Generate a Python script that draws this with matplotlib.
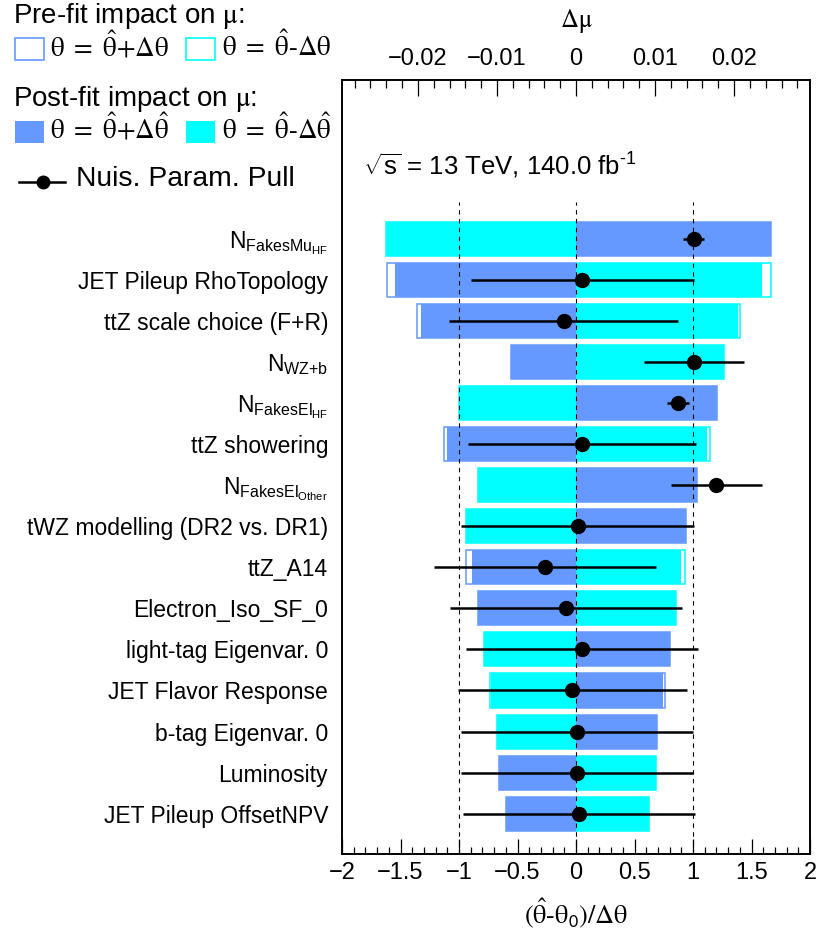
import matplotlib
matplotlib.use("Agg")
import matplotlib.pyplot as plt
from matplotlib.patches import Rectangle
from matplotlib.lines import Line2D
from matplotlib.ticker import MultipleLocator, FixedLocator, FuncFormatter
import numpy as np

plt.rcParams['font.family'] = ['Liberation Sans', 'DejaVu Sans']
plt.rcParams['mathtext.fontset'] = 'custom'
plt.rcParams['mathtext.rm'] = 'Liberation Sans'
plt.rcParams['mathtext.it'] = 'Liberation Sans:italic'
plt.rcParams['mathtext.bf'] = 'Liberation Sans:bold'
plt.rcParams['mathtext.sf'] = 'Liberation Sans'

# Nuisance parameters, ranked by impact (top row first)
params = [
    r"$\mathregular{N_{FakesMu_{HF}}}$",
    "JET Pileup RhoTopology",
    "ttZ scale choice (F+R)",
    r"$\mathregular{N_{WZ{+}b}}$",
    r"$\mathregular{N_{FakesEl_{HF}}}$",
    "ttZ showering",
    r"$\mathregular{N_{FakesEl_{Other}}}$",
    "tWZ modelling (DR2 vs. DR1)",
    "ttZ_A14",
    "Electron_Iso_SF_0",
    "light-tag Eigenvar. 0",
    "JET Flavor Response",
    "b-tag Eigenvar. 0",
    "Luminosity",
    "JET Pileup OffsetNPV",
]

# Fitted pulls (theta_hat - theta_0)/Delta_theta and their post-fit errors
pull = [1.006, 0.054, -0.105, 1.009, 0.872, 0.051, 1.199, 0.014,
        -0.264, -0.088, 0.051, -0.031, 0.010, 0.010, 0.026]
pull_err = [0.09, 0.955, 0.98, 0.43, 0.095, 0.974, 0.39, 0.995,
            0.948, 0.99, 0.99, 0.98, 0.99, 0.99, 0.99]

# Impact on mu (Delta mu)
postfit_up = [0.02469, -0.02284, -0.01960, -0.00820, 0.01788, -0.01628, 0.01535,
              0.01397, -0.01316, -0.01236, 0.01190, 0.01103, 0.01030, -0.00980, -0.00884]
postfit_down = [-0.02398, 0.02355, 0.02048, 0.01868, -0.01484, 0.01662, -0.01236,
                -0.01388, 0.01322, 0.01270, -0.01160, -0.01073, -0.00996, 0.01014, 0.00921]
prefit_up = [0.02469, -0.02389, -0.02005, -0.00820, 0.01788, -0.01674, 0.01535,
             0.01397, -0.01388, -0.01236, 0.01190, 0.01123, 0.01030, -0.00980, -0.00884]
prefit_down = [-0.02398, 0.02469, 0.02078, 0.01868, -0.01484, 0.01699, -0.01236,
               -0.01388, 0.01384, 0.01270, -0.01160, -0.01094, -0.00996, 0.01014, 0.00921]

MU_SCALE = 0.0148          # Delta mu per unit of pull axis
BLUE = "#6699ff"
CYAN = "#00ffff"
W, H = 819, 938
HY = "\u2010"              # short hyphen (mathtext turns '-' into a minus)


def fx(px):
    return px / W


def fy(py):
    return 1 - py / H


fig = plt.figure(figsize=(W / 100, H / 100), dpi=100)
ax = fig.add_axes([fx(342), fy(854), 468 / W, 774 / H])
axp = ax.twiny()

n = len(params)
ypos = np.arange(n)[::-1]
bh = 0.83

# impact bars (top axis, Delta mu)
ax.barh(ypos, prefit_up, height=bh, color="white", edgecolor=BLUE, lw=1.1, zorder=1)
ax.barh(ypos, prefit_down, height=bh, color="white", edgecolor=CYAN, lw=1.1, zorder=1)
ax.barh(ypos, postfit_up, height=bh, color=BLUE, lw=0, zorder=2)
ax.barh(ypos, postfit_down, height=bh, color=CYAN, lw=0, zorder=2)

ax.set_xlim(-2 * MU_SCALE, 2 * MU_SCALE)
ax.set_ylim(-0.98, 17.86)

# pulls (bottom axis)
axp.set_xlim(-2, 2)
axp.vlines([-1, 0, 1], -0.98, 14.9, colors="black", lw=0.8,
           linestyles=(0, (4, 4)), zorder=1)
axp.errorbar(pull, ypos, xerr=pull_err, fmt="o", color="black", ms=10,
             elinewidth=1.8, capsize=0, zorder=3)

# axes layout: Delta mu on top, pull on bottom
ax.xaxis.tick_top()
ax.xaxis.set_label_position("top")
axp.xaxis.tick_bottom()
axp.xaxis.set_label_position("bottom")


def tick_fmt(v, _):
    if abs(v) < 1e-9:
        return "0"
    return f"{v:g}".replace("-", "\u2212")


ax.xaxis.set_major_locator(FixedLocator([-0.02, -0.01, 0, 0.01, 0.02]))
ax.xaxis.set_minor_locator(MultipleLocator(0.002))
ax.xaxis.set_major_formatter(FuncFormatter(tick_fmt))
ax.tick_params(axis="x", which="major", direction="in", length=11.5, width=0.9,
               labelsize=17, pad=7)
ax.tick_params(axis="x", which="minor", direction="in", length=5.8, width=0.9)

axp.xaxis.set_major_locator(MultipleLocator(0.5))
axp.xaxis.set_minor_locator(MultipleLocator(0.1))
axp.xaxis.set_major_formatter(FuncFormatter(tick_fmt))
axp.tick_params(axis="x", which="major", direction="in", length=10.8, width=0.9,
                labelsize=17, pad=6)
axp.tick_params(axis="x", which="minor", direction="in", length=5, width=0.9)

ax.set_yticks(ypos)
ax.set_yticklabels(params)
ax.tick_params(axis="y", length=0, labelsize=16.5, pad=10)

for a in (ax, axp):
    for s in a.spines.values():
        s.set_linewidth(1.2)

ax.set_xlabel(r"$\mathrm{\Delta\mu}$", fontsize=18, labelpad=15, math_fontfamily="stix")
axp.set_xlabel(r"$\mathsf{(}\mathrm{\hat{\theta}}\mathsf{" + HY + r"}\mathrm{\theta}_{\mathsf{0}}"
               r"\mathsf{)/}\mathrm{\Delta\theta}$",
               fontsize=19, labelpad=9, math_fontfamily="stix")

ax.text(0.045, 0.877, r"$\sqrt{\mathregular{s}}$ = 13 TeV, 140.0 fb$^{\mathregular{" + HY + "1}}$",
        transform=ax.transAxes, fontsize=18.5, va="baseline", ha="left")

# legend block
fig.text(fx(13), fy(23), r"Pre-fit impact on $\mathrm{\mu}$:", fontsize=20,
         va="baseline", math_fontfamily="stix")
fig.text(fx(13), fy(106), r"Post-fit impact on $\mathrm{\mu}$:", fontsize=20,
         va="baseline", math_fontfamily="stix")

box_w, box_h = 29, 22
for (bx, col) in ((15, BLUE), (186, CYAN)):
    fig.add_artist(Rectangle((fx(bx), fy(60)), box_w / W, box_h / H, transform=fig.transFigure,
                             facecolor="white", edgecolor=col, lw=1.2))
    fig.add_artist(Rectangle((fx(bx), fy(143)), box_w / W, box_h / H, transform=fig.transFigure,
                             facecolor=col, edgecolor=col, lw=0))

fig.text(fx(50), fy(56), r"$\mathrm{\theta\ =\ \hat{\theta}{+}\Delta\theta}$", fontsize=19.5,
         va="baseline", math_fontfamily="stix")
fig.text(fx(222), fy(56), r"$\mathrm{\theta\ =\ \hat{\theta}" + HY + r"\Delta\theta}$", fontsize=19.5,
         va="baseline", math_fontfamily="stix")
fig.text(fx(50), fy(139), r"$\mathrm{\theta\ =\ \hat{\theta}{+}\Delta\hat{\theta}}$", fontsize=19.5,
         va="baseline", math_fontfamily="stix")
fig.text(fx(222), fy(139), r"$\mathrm{\theta\ =\ \hat{\theta}" + HY + r"\Delta\hat{\theta}}$", fontsize=19.5,
         va="baseline", math_fontfamily="stix")

fig.add_artist(Line2D([fx(19), fx(65)], [fy(182), fy(182)], color="black", lw=1.8,
                      transform=fig.transFigure))
fig.add_artist(Line2D([fx(43)], [fy(182)], marker="o", ms=9, color="black",
                      transform=fig.transFigure))
fig.text(fx(76), fy(186), "Nuis. Param. Pull", fontsize=20.3, va="baseline")

fig.savefig("out.png", dpi=100)
